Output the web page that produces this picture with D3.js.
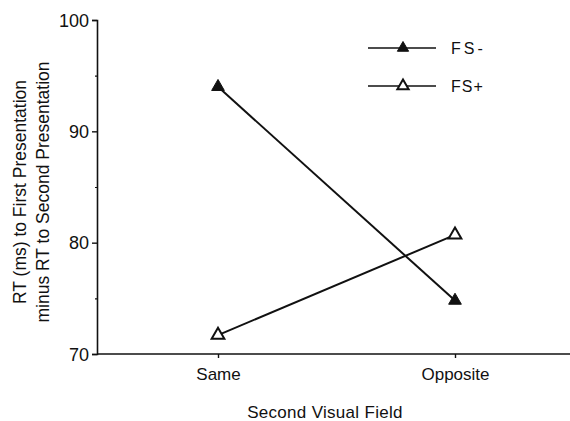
<!DOCTYPE html>
<html><head><meta charset="utf-8">
<script src="https://cdn.jsdelivr.net/npm/d3@7"></script>
<style>body{margin:0;background:#fff}svg{display:block}text{font-family:"Liberation Sans",Arial,sans-serif;fill:#111}</style>
</head><body>
<script>
const categories = ["Same", "Opposite"];
const seriesNames = ["FS-", "FS+"];
const fsMinus = [94.0, 74.8];
const fsPlus = [71.7, 80.7];
const yTicks = [70, 80, 90, 100];
const yMinorTicks = [75, 85, 95];

const W = 570, H = 421;
const svg = d3.select("body").append("svg").attr("width", W).attr("height", H);
const y = d3.scaleLinear().domain([70, 100]).range([354, 20]);
const x = d3.scalePoint().domain(categories).range([218, 455]);

const ink = "#111";
// y axis
const yAxis = svg.append("g").attr("transform", "translate(97,0)")
  .call(d3.axisLeft(y).tickValues(yTicks).tickSize(5).tickPadding(3).tickFormat(d3.format("d")));
yAxis.select(".domain").attr("stroke", ink).attr("stroke-width", 1.6);
yAxis.selectAll(".tick line").attr("stroke", ink).attr("stroke-width", 1.4);
yAxis.selectAll(".tick text").style("font-size", "18px").attr("fill", ink).attr("dy", "0.35em");
svg.append("g").attr("transform", "translate(97,0)")
  .call(d3.axisLeft(y).tickValues(yMinorTicks).tickSize(2).tickFormat(""))
  .call(g => g.select(".domain").remove())
  .selectAll("line").attr("stroke", ink).attr("stroke-width", 1.2);

// x axis
svg.append("line").attr("x1", 97).attr("x2", 570).attr("y1", y(70)).attr("y2", y(70))
  .attr("stroke", ink).attr("stroke-width", 1.6);
const xAxis = svg.append("g").attr("transform", `translate(0,${y(70)})`)
  .call(d3.axisBottom(x).tickSize(4).tickPadding(10));
xAxis.select(".domain").remove();
xAxis.selectAll(".tick line").attr("stroke", ink).attr("stroke-width", 1.4);
xAxis.selectAll(".tick text").style("font-size", "17px").attr("fill", ink);

// titles
svg.append("text").attr("x", 325).attr("y", 418).attr("text-anchor", "middle")
  .style("font-size", "17px").style("letter-spacing", "0.3px").text("Second Visual Field");
const yt = svg.append("text").attr("transform", "translate(0,192) rotate(-90)").attr("text-anchor", "middle")
  .style("font-size", "17.5px");
yt.append("tspan").attr("x", 0).attr("y", 26).text("RT (ms) to First Presentation");
yt.append("tspan").attr("x", 0).attr("y", 49).text("minus RT to Second Presentation");

const tri = d3.symbol().type(d3.symbolTriangle).size(70);
const series = [
  {name: seriesNames[0], values: fsMinus, filled: true},
  {name: seriesNames[1], values: fsPlus, filled: false}
];
const line = d3.line().x((d, i) => x(categories[i])).y(d => y(d));
series.forEach(s => {
  svg.append("path").attr("d", line(s.values)).attr("fill", "none")
    .attr("stroke", ink).attr("stroke-width", 2);
  s.values.forEach((v, i) => {
    svg.append("path").attr("d", tri).attr("transform", `translate(${x(categories[i])},${y(v)})`)
      .attr("fill", s.filled ? ink : "#fff").attr("stroke", ink).attr("stroke-width", s.filled ? 1 : 2);
  });
});

// legend
const legTri = d3.symbol().type(d3.symbolTriangle).size(55);
const leg = svg.append("g");
series.forEach((s, i) => {
  const ly = 48 + i * 38;
  leg.append("line").attr("x1", 368).attr("x2", 436).attr("y1", ly).attr("y2", ly)
    .attr("stroke", ink).attr("stroke-width", 1.5);
  leg.append("path").attr("d", legTri).attr("transform", `translate(403,${ly})`)
    .attr("fill", s.filled ? ink : "#fff").attr("stroke", ink).attr("stroke-width", s.filled ? 1 : 2);
  leg.append("text").attr("x", 451).attr("y", ly).attr("dy", "0.35em")
    .style("font-size", "16px").style("letter-spacing", i === 0 ? "3px" : "1px").text(s.name);
});
</script>
</body></html>
